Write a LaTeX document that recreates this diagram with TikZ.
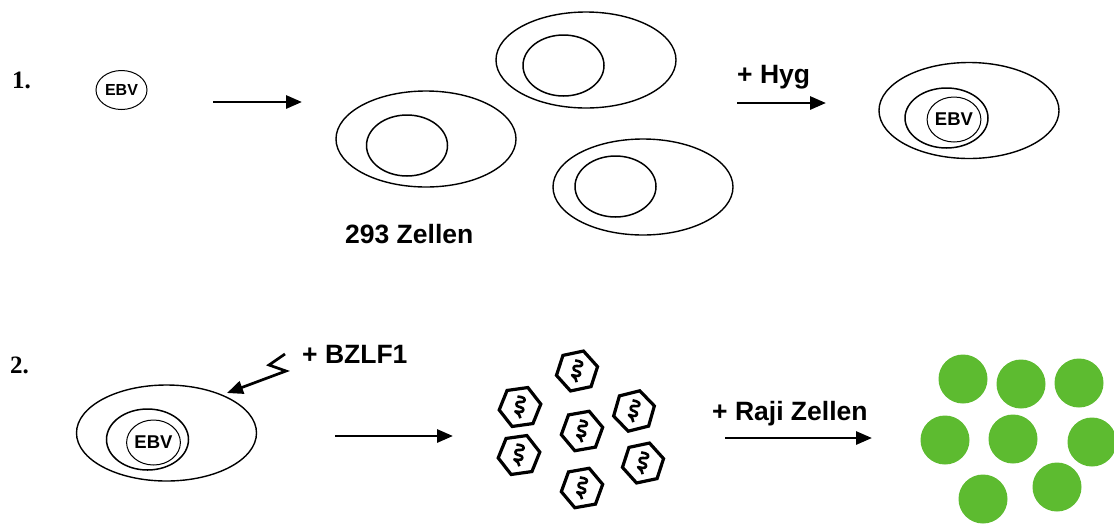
\documentclass[tikz,border=0pt]{standalone}
\usepackage{fontspec}
\setmainfont{Liberation Serif}
\setsansfont{Liberation Sans}
\usetikzlibrary{shapes.geometric,arrows.meta}
\definecolor{rajigreen}{RGB}{93,187,48}
\tikzset{
  cell/.style={ellipse,draw,line width=1.4pt,inner sep=0pt,minimum width=180pt,minimum height=96pt},
  nucleus/.style={ellipse,draw,line width=1.5pt,inner sep=0pt,minimum width=81pt,minimum height=61pt},
  virus/.style={ellipse,draw,line width=1pt,inner sep=0pt,font=\sffamily\bfseries\fontsize{16}{16}\selectfont},
  bigvirus/.style={virus,minimum width=52pt,minimum height=45pt,font=\sffamily\bfseries\fontsize{18.5}{18.5}\selectfont},
  label/.style={inner sep=0pt,font=\sffamily\bfseries\fontsize{26.5}{26.5}\selectfont},
  steplabel/.style={inner sep=0pt,font=\rmfamily\bfseries\fontsize{25}{25}\selectfont},
  arr/.style={line width=2.9pt,-{Triangle[length=16pt,width=13pt]}},
  virion/.style={regular polygon,regular polygon sides=6,draw,line width=3.2pt,minimum size=42pt,inner sep=0pt},
  coil/.style={line width=2.6pt,line join=round},
  raji/.style={circle,fill=rajigreen,minimum size=49pt,inner sep=0pt}
}
\begin{document}
\begin{tikzpicture}[x=1pt,y=-1pt]
\useasboundingbox (0,0) rectangle (1114,523);

% ---- row 1 ----
\node[steplabel,anchor=base west] (s1) at (12,88) {1.};
\node[virus,minimum width=51pt,minimum height=39pt] (ebv0) at (121.5,90) {EBV};

\coordinate (a1s) at (213,102);
\coordinate (a1e) at (302,102);
\draw[arr] (a1s) -- (a1e);

% three 293 cells
\node[cell] (c1) at (586,60) {};
\node[nucleus] (n1) at (563.5,65.5) {};
\node[cell] (c2) at (426,139) {};
\node[nucleus] (n2) at (407,145.5) {};
\node[cell] (c3) at (643,187) {};
\node[nucleus] (n3) at (615.5,186.5) {};
\node[label,anchor=base west] (z293) at (345,243) {293 Zellen};

% hygromycin selection
\node[label,anchor=base west] (hyg) at (737,83) {+ Hyg};
\coordinate (a2s) at (737,103);
\coordinate (a2e) at (826,103);
\draw[arr] (a2s) -- (a2e);

\node[cell] (c4) at (969,110.5) {};
\node[nucleus,minimum width=83pt,minimum height=60pt] (n4) at (946.5,118) {};
\node[bigvirus] (ebv1) at (954,119.5) {EBV};

% ---- row 2 ----
\node[steplabel,anchor=base west] (s2) at (10,373) {2.};
\node[cell] (c5) at (166.5,433) {};
\node[nucleus,minimum width=82pt] (n5) at (147.5,439.5) {};
\node[bigvirus,minimum width=51pt] (ebv2) at (153.5,442.5) {EBV};

\node[label,anchor=base west] (bz) at (302,363) {+ BZLF1};
\coordinate (bz0) at (285,354);
\coordinate (bz1) at (269,365);
\coordinate (bz2) at (286,371);
\coordinate (bz3) at (227,393);
\draw[line width=2.7pt,line join=miter,-{Triangle[length=16pt,width=13pt]}] (bz0) -- (bz1) -- (bz2) -- (bz3);

\coordinate (a3s) at (335,436);
\coordinate (a3e) at (453,436);
\draw[arr] (a3s) -- (a3e);

% released virions
\foreach \i/\x/\y/\r in {1/577/371/12, 2/520/407/8, 3/634/411/14, 4/582/431/10, 5/519/455/8, 6/643/463/12, 7/582/488/10}{
  \node[virion,rotate=\r] (h\i) at (\x,\y) {};
  \begin{scope}[shift={(h\i.center)},rotate=-\r]
    \draw[coil] (-4,-10) -- (0,-10) .. controls (5,-10) and (5,-5) .. (0,-5)
      -- (-1,-5) .. controls (-5,-5) and (-5,0) .. (-1,0)
      -- (0,0) .. controls (5,0) and (5,5) .. (0,5)
      -- (-4,5) .. controls (-1,7) and (2,8) .. (2,11);
  \end{scope}
}

\node[label,anchor=base west] (raji) at (712,420) {+ Raji Zellen};
\coordinate (a4s) at (725,438);
\coordinate (a4e) at (872,438);
\draw[arr] (a4s) -- (a4e);

% infected Raji cells
\foreach \i/\x/\y in {1/963/379, 2/1021/384, 3/1079/383, 4/945/440, 5/1013/439, 6/1092/442, 7/983/499, 8/1057/487}{
  \node[raji] (r\i) at (\x,\y) {};
}
\end{tikzpicture}
\end{document}
